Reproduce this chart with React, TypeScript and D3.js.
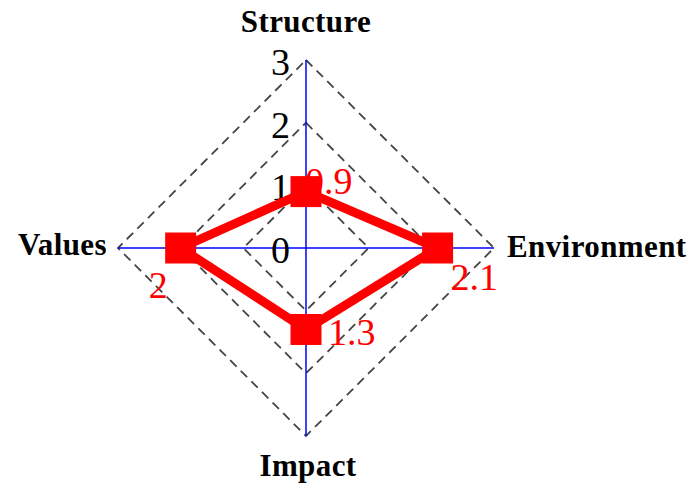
import React from 'react'
import * as d3 from 'd3'

// chart data
const axes = ['Structure', 'Environment', 'Impact', 'Values']
const values = [0.9, 2.1, 1.3, 2]
const valueLabels = ['0.9', '2.1', '1.3', '2']
const gridLevels = [1, 2, 3]
const tickLabels = ['0', '1', '2', '3']

// label placement relative to each point (layout only)
const valueLabelOffsets = [[-1, 2], [13, 42], [22, 16], [-32, 50]]

const W = 691
const H = 483
const cx = 306
const cy = 248
const R = 188
const serif = '"Liberation Serif", "Times New Roman", serif'

export default function App() {
    const r = d3.scaleLinear().domain([0, 3]).range([0, R])
    const angle = (i: number) => (i * 2 * Math.PI) / axes.length

    const radial = d3.lineRadial<number>()
        .angle((d, i) => angle(i))
        .radius(d => r(d))
        .curve(d3.curveLinearClosed)

    const points = values.map((v, i) => d3.pointRadial(angle(i), r(v)))

    // axis title placement
    const titlePos = (i: number) => {
        const [x, y] = d3.pointRadial(angle(i), R)
        if (i === 0) return { x, y: y - 28, anchor: 'middle' }
        if (i === 1) return { x: x + 13, y: y + 9, anchor: 'start' }
        if (i === 2) return { x: x + 2, y: y + 40, anchor: 'middle' }
        return { x: x - 11, y: y + 7, anchor: 'end' }
    }

    return (
        <svg width={W} height={H} style={{ position: 'absolute', left: 0, top: 0, background: 'white' }}>
            <g transform={`translate(${cx},${cy})`}>
                {/* dashed grid */}
                {gridLevels.map(l => (
                    <path key={l} d={radial(axes.map(() => l)) || ''}
                        fill="none" stroke="#444" strokeWidth={1.8} strokeDasharray="9,6" />
                ))}
                {/* blue axes */}
                {axes.map((a, i) => {
                    const [x, y] = d3.pointRadial(angle(i), R)
                    return <line key={a} x1={0} y1={0} x2={x} y2={y} stroke="#0000ff" strokeWidth={1.5} />
                })}
                {/* tick labels */}
                {tickLabels.map((t, i) => (
                    <text key={t} x={-16} y={-r(+t) + 15} textAnchor="end"
                        fontFamily={serif} fontSize={38} fill="#000">{t}</text>
                ))}
                {/* axis titles */}
                {axes.map((a, i) => {
                    const p = titlePos(i)
                    return (
                        <text key={a} x={p.x} y={p.y} textAnchor={p.anchor as any} letterSpacing={0.4}
                            fontFamily={serif} fontWeight="bold" fontSize={31} fill="#000">{a}</text>
                    )
                })}
                {/* data polygon */}
                <path d={radial(values) || ''} fill="none" stroke="#ff0000" strokeWidth={9} strokeLinejoin="miter" />
                {points.map(([x, y], i) => (
                    <rect key={i} x={x - 15.5} y={y - 15.5} width={31} height={31} fill="#ff0000" />
                ))}
                {points.map(([x, y], i) => (
                    <text key={'l' + i} x={x + valueLabelOffsets[i][0]} y={y + valueLabelOffsets[i][1]}
                        fontFamily={serif} fontSize={38} fill="#ff0000">{valueLabels[i]}</text>
                ))}
            </g>
        </svg>
    )
}
